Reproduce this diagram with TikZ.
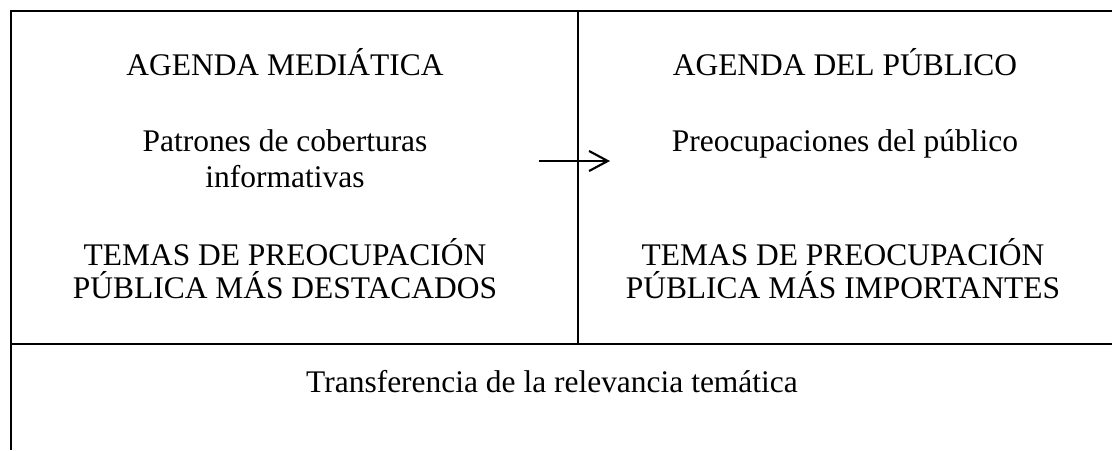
\documentclass[tikz,border=0pt]{standalone}
\usepackage{fontspec}
\setmainfont{Liberation Serif}
\usepackage{tikz}
\usetikzlibrary{positioning,arrows.meta}
\tikzset{
    titolo/.style={
        anchor=base,
        font=\fontsize{23.6}{27}\selectfont
    },
    testo/.style={
        anchor=base,
        align=center,
        font=\fontsize{23.6}{27}\selectfont
    },
    maiuscolo/.style={
        anchor=base,
        align=center,
        font=\fontsize{23.6}{24.75}\selectfont
    },
    bordo/.style={line width=1.6pt},
    arrow/.style={-{Straight Barb[length=14pt,width=15pt]}, line width=1.6pt}
}

\begin{document}
\begin{tikzpicture}[x=0.75pt,y=-0.75pt]
        \useasboundingbox (0,0) rectangle (1112,450);

        % Bordi della tabella
        \draw[bordo] (1112,11) -- (11,11) -- (11,450);
        \draw[bordo] (578,11) -- (578,344); % divisore centrale
        \draw[bordo] (11,344) -- (1112,344);

        % Colonna sinistra (base = ultima riga)
        \node[titolo] (media) at (285,75) {AGENDA MEDIÁTICA};
        \node[testo] (patroni) at (285,187) {Patrones de coberturas\\informativas};
        \node[maiuscolo] (temisx) at (285,298) {TEMAS DE PREOCUPACIÓN\\PÚBLICA MÁS DESTACADOS};

        % Colonna destra
        \node[titolo] (pubblico) at (845,75) {AGENDA DEL PÚBLICO};
        \node[testo] (preoc) at (845,151) {Preocupaciones del público};
        \node[maiuscolo] (temidx) at (843,298) {TEMAS DE PREOCUPACIÓN\\PÚBLICA MÁS IMPORTANTES};

        % Riga in basso
        \node[titolo] (transf) at (552,392) {Transferencia de la relevancia temática};

        % Freccia
        \coordinate (da) at (539,161);
        \coordinate (a) at (610,161);
        \draw[arrow] (da) -- (a);
\end{tikzpicture}
\end{document}
